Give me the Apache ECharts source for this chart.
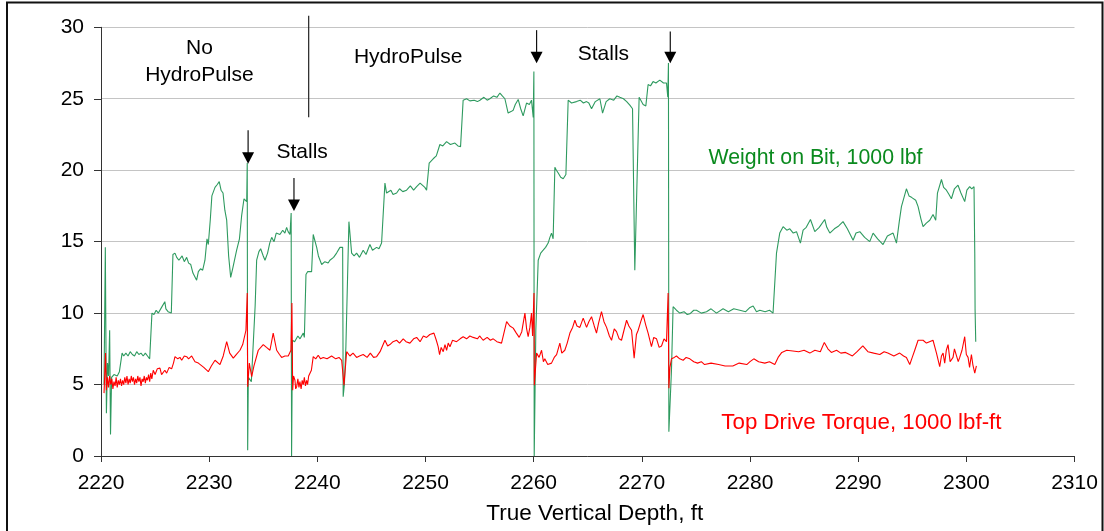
<!DOCTYPE html>
<html>
<head>
<meta charset="utf-8">
<script src="https://cdn.jsdelivr.net/npm/echarts@6/dist/echarts.min.js"></script>
<style>
html,body{margin:0;padding:0;background:#fff;}
#c{width:1104px;height:531px;}
</style>
</head>
<body>
<div id="c"></div>
<script>
// x-axis ticks (True Vertical Depth, ft) and y-axis ticks
const xTicks = [2220, 2230, 2240, 2250, 2260, 2270, 2280, 2290, 2300, 2310];
const yTicks = [0, 5, 10, 15, 20, 25, 30];

// Weight on Bit, 1000 lbf : [depth ft, value]
const wob = [
[2220.28,5.0],[2220.40,14.6],[2220.50,3.0],[2220.60,6.5],[2220.70,5.6],[2220.80,8.8],[2220.88,1.5],[2220.98,5.5],
[2221.2,5.7],[2221.5,5.6],[2221.7,5.9],[2221.85,5.8],[2221.95,7.2],[2222.1,7.0],[2222.3,7.2],[2222.5,7.0],[2222.7,7.3],
[2222.9,7.1],[2223.1,7.0],[2223.3,7.3],[2223.5,7.1],[2223.7,7.2],[2223.9,7.0],[2224.1,7.2],[2224.3,7.0],[2224.5,6.8],
[2224.71,10.0],[2224.9,9.9],[2225.1,10.2],[2225.3,10.0],[2225.6,10.4],[2225.9,10.8],[2226.0,10.3],[2226.2,10.1],[2226.5,10.0],
[2226.65,14.1],[2226.84,14.2],[2227.0,13.9],[2227.2,13.7],[2227.5,14.0],[2227.7,13.6],[2227.92,13.9],[2228.1,13.5],[2228.3,13.4],
[2228.5,12.8],[2228.84,12.3],[2229.0,12.9],[2229.2,13.1],[2229.4,13.0],[2229.61,13.7],[2229.80,15.2],[2229.92,14.8],
[2230.1,16.5],[2230.25,18.2],[2230.54,18.8],[2230.75,19.0],[2230.93,19.2],[2231.1,18.6],[2231.28,18.4],[2231.45,17.2],
[2231.62,16.5],[2231.8,14.0],[2231.99,12.5],[2232.2,13.2],[2232.54,14.4],[2232.8,15.2],[2233.0,16.8],[2233.22,18.0],[2233.47,17.8],
[2233.52,20.5],[2233.56,0.4],[2233.62,5.5],[2233.77,5.5],[2233.9,5.2],[2234.08,5.3],[2234.25,10.5],[2234.39,13.7],
[2234.6,14.3],[2234.76,14.5],[2235.0,14.0],[2235.16,13.7],[2235.4,14.2],[2235.6,14.9],[2235.78,15.3],[2236.0,15.0],[2236.2,15.6],
[2236.54,15.5],[2236.8,15.8],[2237.0,15.6],[2237.16,16.0],[2237.3,15.7],[2237.47,15.5],[2237.58,17.0],[2237.62,0.0],
[2237.70,8.1],[2237.9,8.0],[2238.2,8.4],[2238.4,8.2],[2238.70,8.6],[2238.8,8.3],[2238.95,12.7],[2239.1,12.9],[2239.2,13.0],[2239.47,12.9],
[2239.62,15.5],[2239.94,14.6],[2240.1,14.0],[2240.40,13.4],[2240.7,13.6],[2241.0,13.5],[2241.16,13.7],[2241.5,13.9],[2241.78,14.2],
[2242.09,14.6],[2242.34,14.6],[2242.39,4.15],[2242.5,5.0],[2242.64,7.65],[2242.92,16.4],[2243.17,14.2],[2243.4,14.0],[2243.63,14.2],
[2243.9,13.9],[2244.24,14.4],[2244.5,14.1],[2244.86,14.8],[2245.1,14.4],[2245.48,14.6],[2245.7,14.5],[2245.94,14.9],[2246.25,19.1],
[2246.40,18.4],[2246.8,18.6],[2247.0,18.3],[2247.33,18.4],[2247.6,18.7],[2247.9,18.5],[2248.25,18.6],[2248.6,18.9],[2248.9,18.6],
[2249.18,18.85],[2249.5,19.1],[2249.94,18.8],[2250.10,18.6],[2250.34,20.5],[2250.71,20.8],[2251.0,21.0],[2251.33,21.8],
[2251.6,21.7],[2251.95,22.0],[2252.3,21.8],[2252.72,21.9],[2253.0,21.7],[2253.24,21.65],[2253.48,24.9],[2253.8,25.0],
[2254.10,24.85],[2254.5,24.9],[2254.8,24.8],[2255.03,24.9],[2255.4,25.1],[2255.7,24.9],[2255.95,25.0],[2256.3,25.2],[2256.6,25.1],
[2256.88,25.4],[2257.1,25.2],[2257.34,25.0],[2257.64,24.0],[2257.9,24.1],[2258.11,24.2],[2258.3,24.6],[2258.57,24.95],
[2258.8,24.3],[2259.03,23.8],[2259.34,24.7],[2259.60,24.6],[2259.80,24.9],[2259.96,23.7],[2260.02,26.9],[2260.05,0],
[2260.20,8.8],[2260.42,13.7],[2260.65,14.2],[2260.88,14.4],[2261.1,14.6],[2261.34,14.9],[2261.5,15.3],[2261.65,15.6],[2261.80,15.2],
[2261.96,20.2],[2262.1,20.0],[2262.27,19.8],[2262.5,19.5],[2262.73,19.4],[2262.98,19.7],[2263.19,24.9],[2263.5,24.7],
[2263.96,24.8],[2264.3,24.9],[2264.6,24.7],[2264.89,24.8],[2265.1,24.7],[2265.35,24.3],[2265.7,24.8],[2266.12,25.0],
[2266.37,24.0],[2266.7,24.8],[2267.04,25.0],[2267.4,24.9],[2267.7,25.2],[2267.97,25.1],[2268.3,25.0],[2268.6,24.8],
[2268.89,24.55],[2269.14,24.3],[2269.35,13.0],[2269.75,25.1],[2270.12,24.6],[2270.37,24.5],[2270.58,26.0],[2270.8,25.9],
[2271.04,26.2],[2271.3,26.1],[2271.66,26.3],[2272.0,26.1],[2272.28,26.1],[2272.40,25.1],[2272.46,27.5],[2272.50,1.7],
[2272.74,6.0],[2272.89,10.45],[2273.2,10.2],[2273.51,10.0],[2273.9,10.1],[2274.2,9.9],[2274.44,9.95],[2274.8,10.2],
[2275.05,10.2],[2275.5,10.0],[2275.98,10.1],[2276.4,10.3],[2276.9,10.0],[2277.51,10.3],[2278.0,10.1],[2278.5,10.3],
[2279.06,10.2],[2279.6,10.1],[2280.0,10.4],[2280.29,10.5],[2280.6,10.1],[2280.91,10.2],[2281.4,10.1],[2281.8,10.2],
[2282.13,10.0],[2282.45,14.2],[2282.75,15.6],[2283.06,16.05],[2283.4,15.8],[2283.68,15.9],[2284.0,15.6],[2284.30,15.7],
[2284.66,14.9],[2284.91,15.8],[2285.2,16.0],[2285.59,16.55],[2285.99,15.7],[2286.4,16.0],[2286.91,16.55],[2287.1,16.0],
[2287.38,15.6],[2287.8,15.9],[2288.2,16.1],[2288.60,16.4],[2289.0,15.9],[2289.53,15.1],[2289.8,15.6],[2290.15,15.7],
[2290.6,15.3],[2291.07,15.0],[2291.38,15.6],[2291.8,15.2],[2292.30,14.8],[2292.7,15.4],[2293.23,15.6],[2293.54,14.9],
[2293.8,16.4],[2294.00,17.45],[2294.46,18.7],[2294.7,18.2],[2294.93,18.1],[2295.32,17.9],[2295.54,17.45],[2295.8,16.6],
[2296.00,16.05],[2296.3,16.3],[2296.62,16.5],[2296.92,16.9],[2297.17,16.5],[2297.33,18.4],[2297.70,19.35],[2297.9,18.8],
[2298.16,18.6],[2298.4,18.3],[2298.62,18.0],[2298.9,18.7],[2299.23,18.95],[2299.5,18.4],[2299.85,17.8],[2300.05,18.6],
[2300.31,18.85],[2300.5,18.7],[2300.71,18.85],[2300.78,14.2],[2300.81,10.2],[2300.87,8.0]
];

// Top Drive Torque, 1000 lbf-ft : [depth ft, value]
const torque = [
[2220.28,4.4],[2220.42,7.2],[2220.5,4.6],[2220.6,5.5],[2220.7,4.8],[2220.8,5.6],[2220.9,5.0],[2221.0,5.4],[2221.1,4.7],
[2221.2,5.2],[2221.3,4.9],[2221.4,5.5],[2221.5,4.8],[2221.6,5.3],[2221.7,5.0],[2221.8,5.4],[2221.9,4.9],[2222.0,5.3],
[2222.1,5.0],[2222.2,5.5],[2222.3,5.1],[2222.4,5.6],[2222.5,5.0],[2222.6,5.4],[2222.7,5.1],[2222.8,5.6],[2222.9,5.2],
[2223.0,5.5],[2223.1,5.0],[2223.2,5.4],[2223.3,5.1],[2223.4,5.6],[2223.5,5.2],[2223.6,5.5],[2223.7,4.9],[2223.8,5.4],
[2223.9,5.2],[2224.0,5.6],[2224.1,5.1],[2224.2,5.5],[2224.3,5.3],[2224.4,5.7],[2224.5,5.2],[2224.6,5.8],[2224.7,5.4],
[2224.83,6.0],[2225.0,5.7],[2225.2,6.1],[2225.45,6.15],[2225.6,5.7],[2225.76,5.6],[2225.9,6.0],[2226.07,5.8],[2226.3,6.2],
[2226.53,6.1],[2226.7,6.5],[2226.84,6.95],[2227.1,6.8],[2227.3,6.9],[2227.46,6.7],[2227.7,7.0],[2227.92,6.95],[2228.1,6.8],
[2228.38,7.0],[2228.69,6.6],[2229.0,6.5],[2229.15,6.5],[2229.5,6.2],[2229.92,5.9],[2230.2,6.3],[2230.54,6.7],[2231.0,6.4],
[2231.3,7.0],[2231.62,8.0],[2231.9,7.2],[2232.23,6.85],[2232.5,7.1],[2232.85,7.4],[2233.1,7.8],[2233.40,8.8],[2233.52,11.4],
[2233.56,4.85],[2233.71,6.5],[2233.93,5.55],[2234.14,6.3],[2234.54,7.4],[2235.0,7.8],[2235.3,7.6],[2235.62,7.4],[2235.92,8.6],
[2236.24,7.4],[2236.5,7.1],[2236.70,6.9],[2237.0,7.0],[2237.31,7.0],[2237.56,7.4],[2237.65,10.7],[2237.72,4.6],[2237.8,5.6],
[2237.93,5.3],[2238.0,4.7],[2238.09,4.85],[2238.2,5.4],[2238.3,4.8],[2238.39,5.2],[2238.5,4.7],[2238.6,5.3],[2238.70,5.0],
[2238.8,5.5],[2238.9,4.9],[2239.01,5.3],[2239.1,5.0],[2239.2,5.6],[2239.32,5.55],[2239.45,6.0],[2239.62,6.95],[2239.85,6.8],
[2240.08,7.05],[2240.3,6.8],[2240.55,6.9],[2240.9,6.8],[2241.32,7.0],[2241.7,6.8],[2242.0,6.9],[2242.25,6.7],[2242.46,4.95],
[2242.71,7.3],[2243.01,7.0],[2243.3,7.2],[2243.63,6.9],[2243.9,7.0],[2244.24,7.1],[2244.6,6.9],[2244.9,7.2],[2245.2,6.9],
[2245.48,6.95],[2245.8,7.3],[2246.25,8.1],[2246.5,7.7],[2246.71,7.8],[2247.0,8.0],[2247.33,8.1],[2247.6,7.9],[2247.94,8.2],
[2248.2,8.0],[2248.56,7.9],[2248.9,8.2],[2249.18,8.3],[2249.5,8.0],[2249.8,8.4],[2250.10,8.3],[2250.4,8.5],[2250.78,8.6],
[2251.0,8.1],[2251.17,7.65],[2251.3,7.1],[2251.45,7.6],[2251.64,7.3],[2251.8,7.8],[2251.95,7.4],[2252.1,7.9],[2252.26,7.65],
[2252.5,8.1],[2252.87,8.0],[2253.2,8.2],[2253.48,8.35],[2253.8,8.2],[2254.1,8.4],[2254.41,8.3],[2254.8,8.2],[2255.0,8.4],
[2255.33,8.1],[2255.7,8.3],[2256.0,8.1],[2256.26,8.2],[2256.6,8.0],[2257.03,7.9],[2257.50,9.4],[2257.8,9.1],[2258.11,8.95],
[2258.4,8.6],[2258.66,8.3],[2258.9,8.7],[2259.19,10.0],[2259.35,8.9],[2259.49,8.35],[2259.65,9.0],[2259.80,10.0],[2259.90,8.4],
[2260.03,11.4],[2260.06,4.95],[2260.27,7.2],[2260.5,6.9],[2260.73,7.4],[2260.9,6.6],[2261.03,6.8],[2261.3,6.4],[2261.65,6.5],
[2261.9,6.9],[2262.12,7.1],[2262.42,7.9],[2262.6,7.2],[2262.88,7.4],[2263.1,7.9],[2263.35,8.6],[2263.6,9.0],[2263.81,9.5],
[2264.0,9.1],[2264.27,9.0],[2264.58,9.65],[2264.89,9.0],[2265.1,9.4],[2265.35,9.75],[2265.6,9.1],[2265.81,8.6],[2266.0,9.3],
[2266.27,10.1],[2266.5,9.4],[2266.74,9.0],[2267.0,8.4],[2267.20,8.1],[2267.45,8.9],[2267.66,8.7],[2267.9,8.2],[2268.12,8.1],
[2268.35,8.8],[2268.59,9.5],[2268.8,9.1],[2269.05,8.8],[2269.29,6.85],[2269.5,8.5],[2269.66,8.8],[2269.9,9.4],[2270.12,9.9],
[2270.35,9.2],[2270.58,8.6],[2270.89,7.65],[2271.1,8.3],[2271.36,8.2],[2271.6,7.6],[2271.82,7.7],[2272.05,8.2],[2272.28,8.0],
[2272.43,11.4],[2272.50,4.75],[2272.6,6.2],[2272.74,6.8],[2273.0,6.9],[2273.20,7.0],[2273.5,6.8],[2273.82,6.7],[2274.1,6.9],
[2274.44,6.8],[2274.8,6.6],[2275.15,6.5],[2275.5,6.6],[2275.80,6.4],[2276.4,6.5],[2277.10,6.4],[2277.7,6.3],[2278.41,6.3],
[2279.0,6.5],[2279.70,6.4],[2280.0,6.6],[2280.35,6.8],[2280.8,6.6],[2281.37,6.5],[2281.8,6.6],[2282.29,6.4],[2282.6,6.9],
[2282.94,7.25],[2283.4,7.4],[2283.96,7.35],[2284.5,7.3],[2285.0,7.4],[2285.53,7.2],[2286.0,7.4],[2286.5,7.3],[2286.87,7.95],
[2287.2,7.5],[2287.52,7.25],[2288.0,7.4],[2288.4,7.2],[2288.83,7.25],[2289.2,7.1],[2289.47,7.0],[2289.9,7.3],[2290.43,7.7],
[2290.9,7.3],[2291.44,7.2],[2292.0,7.1],[2292.4,7.3],[2292.74,7.2],[2293.3,7.0],[2293.84,7.2],[2294.2,7.0],[2294.46,6.9],
[2294.77,6.4],[2295.0,6.9],[2295.23,7.4],[2295.54,8.1],[2296.0,8.1],[2296.31,7.9],[2296.6,8.0],[2296.92,8.1],[2297.24,7.2],
[2297.54,6.25],[2297.7,7.0],[2297.85,7.2],[2298.0,6.5],[2298.15,7.4],[2298.31,7.8],[2298.5,6.6],[2298.77,6.9],[2298.9,7.5],
[2299.08,7.6],[2299.25,6.6],[2299.39,6.9],[2299.6,7.4],[2299.85,8.35],[2300.0,7.1],[2300.16,6.9],[2300.3,6.2],[2300.47,7.1],
[2300.6,6.4],[2300.78,5.8],[2300.93,6.3]
];

// Annotations (data coordinates)
const dividerLine = { x: 2239.2, y0: 30.8, y1: 23.7 };
const arrows = [
  { x: 2233.6, yTop: 22.8, yTip: 20.45 },
  { x: 2237.84, yTop: 19.45, yTip: 17.15 },
  { x: 2260.27, yTop: 29.8, yTip: 27.48 },
  { x: 2272.63, yTop: 29.7, yTip: 27.48 }
];
const notes = [
  { text: 'No\nHydroPulse', x: 2229.1, y: 27.6, color: '#000', size: 21 },
  { text: 'HydroPulse', x: 2248.4, y: 27.92, color: '#000', size: 21 },
  { text: 'Stalls', x: 2238.6, y: 21.25, color: '#000', size: 21 },
  { text: 'Stalls', x: 2266.45, y: 28.1, color: '#000', size: 21 },
  { text: 'Weight on Bit, 1000 lbf', x: 2286.05, y: 20.88, color: '#0a8a1e', size: 21.3 },
  { text: 'Top Drive Torque, 1000 lbf-ft', x: 2290.3, y: 2.3, color: '#ff0000', size: 22.3 }
];

const FONT = 'Liberation Sans, Arial, sans-serif';
const chart = echarts.init(document.getElementById('c'), null, { renderer: 'canvas' });

chart.setOption({
  animation: false,
  backgroundColor: '#fff',
  grid: { left: 101, right: 29.5, top: 27.3, bottom: 75, containLabel: false },
  xAxis: {
    type: 'value', min: xTicks[0], max: xTicks[xTicks.length - 1], interval: 10,
    name: 'True Vertical Depth, ft', nameLocation: 'middle', nameGap: 46,
    nameTextStyle: { fontFamily: FONT, fontSize: 22.5, color: '#000', padding: [0, 0, 0, 14] },
    axisLine: { show: true, onZero: false, lineStyle: { color: '#333', width: 1 } },
    axisTick: { show: true, length: 6, lineStyle: { color: '#333' } },
    axisLabel: { fontFamily: FONT, fontSize: 21, color: '#000', margin: 17,
      formatter: v => String(v) },
    splitLine: { show: false }
  },
  yAxis: {
    type: 'value', min: yTicks[0], max: yTicks[yTicks.length - 1], interval: 5,
    axisLine: { show: true, lineStyle: { color: '#333', width: 1 } },
    axisTick: { show: true, length: 7, lineStyle: { color: '#333' } },
    axisLabel: { fontFamily: FONT, fontSize: 21, color: '#000', margin: 17 },
    splitLine: { show: true, lineStyle: { color: '#c4c4c4', width: 1 } }
  },
  series: [
    { name: 'Weight on Bit', type: 'line', data: wob, showSymbol: false, symbol: 'none',
      lineStyle: { color: '#2e9a5f', width: 1.1 }, z: 2 },
    { name: 'Top Drive Torque', type: 'line', data: torque, showSymbol: false, symbol: 'none',
      lineStyle: { color: '#ff0000', width: 1.1 }, z: 3 }
  ]
});

function px(x, y) { return chart.convertToPixel({ xAxisIndex: 0, yAxisIndex: 0 }, [x, y]); }

const g = [];
// page border
g.push({ type: 'rect', shape: { x: 7, y: 2.5, width: 1095.5, height: 540 },
  style: { fill: 'none', stroke: '#111', lineWidth: 2 }, silent: true });
// divider line
{
  const a = px(dividerLine.x, dividerLine.y0), b = px(dividerLine.x, dividerLine.y1);
  g.push({ type: 'line', shape: { x1: a[0], y1: a[1], x2: b[0], y2: b[1] },
    style: { stroke: '#222', lineWidth: 1.2 }, z: 10 });
}
// arrows
arrows.forEach(ar => {
  const t = px(ar.x, ar.yTop), tip = px(ar.x, ar.yTip);
  const hh = 11.5, hw = 6;
  g.push({ type: 'line', shape: { x1: t[0], y1: t[1], x2: tip[0], y2: tip[1] - hh + 1 },
    style: { stroke: '#111', lineWidth: 1.2 }, z: 10 });
  g.push({ type: 'polygon', shape: { points: [[tip[0] - hw, tip[1] - hh], [tip[0] + hw, tip[1] - hh], [tip[0], tip[1]]] },
    style: { fill: '#000' }, z: 10 });
});
// notes
notes.forEach(n => {
  const p = px(n.x, n.y);
  g.push({ type: 'text', x: p[0], y: p[1], z: 10,
    style: { text: n.text, fill: n.color, font: n.size + 'px ' + FONT, textAlign: 'center', textVerticalAlign: 'middle', lineHeight: 27 } });
});
chart.setOption({ graphic: g });
</script>
</body>
</html>
